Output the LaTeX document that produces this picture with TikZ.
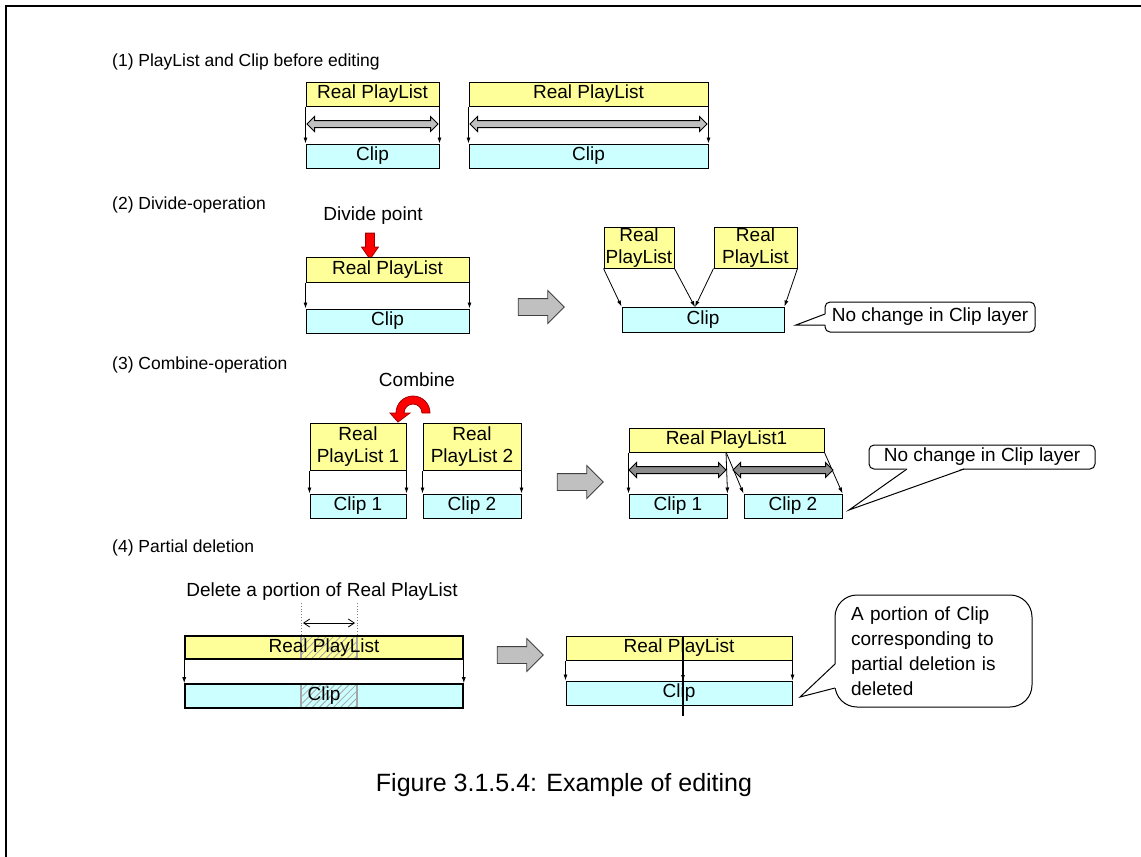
\documentclass[tikz,border=0pt]{standalone}
\usepackage{fontspec}
\setmainfont{Liberation Sans}
\usepackage{tikz}
\usetikzlibrary{arrows.meta}
\usetikzlibrary{shapes.arrows}
\usetikzlibrary{patterns.meta}

\definecolor{plyellow}{HTML}{FFFF99}
\definecolor{clipcyan}{HTML}{CCFFFF}
\definecolor{arrowgray}{HTML}{C0C0C0}
\definecolor{spangray}{HTML}{8C8C8C}
\definecolor{hatchgray}{HTML}{A6A6A6}
\definecolor{redline}{HTML}{A00000}

\newcommand{\lbl}{\fontsize{19}{22}\selectfont}
\newcommand{\hdgfont}{\fontsize{17.5}{20}\selectfont}

\tikzset{
  rpl/.style={draw, fill=plyellow, line width=1pt, inner sep=0pt, align=center, font=\lbl},
  clipbox/.style={draw, fill=clipcyan, line width=1pt, inner sep=0pt, align=center, font=\lbl},
  hdg/.style={anchor=west, inner sep=0pt, font=\hdgfont},
  link/.style={-{Latex[length=6pt,width=4pt]}, line width=0.8pt},
  bigarrow/.style={single arrow, draw=black!75, fill=arrowgray, line width=0.8pt,
    inner xsep=0pt, inner ysep=8pt, minimum height=46pt, single arrow head extend=8pt},
  span/.style={double arrow, draw, line width=1pt, inner xsep=0pt, inner ysep=3pt,
    double arrow head extend=4pt},
  bubble/.style={draw, fill=white, line width=1pt, inner sep=0pt, font=\lbl},
  hatch/.style={path picture={
    \fill[pattern={Lines[angle=45,distance=5pt,line width=0.8pt]}, pattern color=hatchgray]
      ([xshift=116pt]path picture bounding box.south west) rectangle
      ([xshift=172pt]path picture bounding box.north west);
    \draw[hatchgray, line width=1.5pt]
      ([xshift=116pt]path picture bounding box.south west) --
      ([xshift=116pt]path picture bounding box.north west)
      ([xshift=172pt]path picture bounding box.south west) --
      ([xshift=172pt]path picture bounding box.north west);}}
}

\begin{document}
\begin{tikzpicture}[x=1pt,y=-1pt]
    \useasboundingbox (0,0) rectangle (1141,857);
    % Frame
    \draw[line width=2.5pt] (6,857) -- (6,6) -- (1141,6);
    %
    % (1) Before editing
    \node[hdg] (head1) at (112,62) {(1) PlayList and Clip before editing};
    \node[rpl, minimum width=133pt, minimum height=24pt] (rplA) at (372.5,94) {Real PlayList};
    \node[clipbox, minimum width=133pt, minimum height=24pt] (clipA) at (372.5,156) {Clip};
    \node[rpl, minimum width=239pt, minimum height=24pt] (rplB) at (588.5,94) {Real PlayList};
    \node[clipbox, minimum width=239pt, minimum height=24pt] (clipB) at (588.5,156) {Clip};
    \draw[link] (rplA.south west) -- (clipA.north west);
    \draw[link] (rplA.south east) -- (clipA.north east);
    \draw[link] (rplB.south west) -- (clipB.north west);
    \draw[link] (rplB.south east) -- (clipB.north east);
    \node[span, fill=arrowgray, minimum height=131pt] (spanA) at (372.5,124) {};
    \node[span, fill=arrowgray, minimum height=237pt] (spanB) at (588.5,124) {};
    %
    % (2) Divide-operation
    \node[hdg] (head2) at (112,205) {(2) Divide-operation};
    \node[font=\lbl, inner sep=0pt] (divlbl) at (373,216) {Divide point};
    \node[single arrow, draw=redline, fill=red, line width=0.8pt, inner sep=4pt,
      minimum height=26pt, single arrow head extend=4pt,
      single arrow tip angle=70, shape border rotate=270] (divarr) at (370,243) {};
    \node[rpl, minimum width=163pt, minimum height=25pt] (rplDiv) at (387.5,269.5) {Real PlayList};
    \node[clipbox, minimum width=163pt, minimum height=24pt] (clipDiv) at (387.5,321) {Clip};
    \draw[link] (rplDiv.south west) -- (clipDiv.north west);
    \draw[link] (rplDiv.south east) -- (clipDiv.north east);
    \node[bigarrow] (go2) at (537,307) {};
    \node[rpl, minimum width=70pt, minimum height=41pt] (rplLeft) at (639,247.5) {Real\\PlayList};
    \node[rpl, minimum width=83pt, minimum height=41pt] (rplRight) at (755.5,247.5) {Real\\PlayList};
    \node[clipbox, minimum width=162pt, minimum height=25pt] (clipMid) at (703,319.5) {Clip};
    \coordinate (cutMid) at (695,307);
    \draw[link] (rplLeft.south west) -- (clipMid.north west);
    \draw[link] (rplLeft.south east) -- (cutMid);
    \draw[link] (rplRight.south west) -- (cutMid);
    \draw[link] (rplRight.south east) -- (clipMid.north east);
    \node[bubble, rounded corners=5pt, minimum width=210pt, minimum height=30pt] (note2) at (930,317) {No change in Clip layer};
    \fill[white] (826,314) -- (796,325) -- (826,325) -- cycle;
    \draw[line width=1pt] (825,314) -- (796,325) -- (825,325);
    %
    % (3) Combine-operation
    \node[hdg] (head3) at (112,365) {(3) Combine-operation};
    \node[font=\lbl, inner sep=0pt] (comblbl) at (417,380) {Combine};
    \filldraw[fill=red, draw=redline, line width=0.8pt]
      (430,413) arc (0:-180:17) -- (390,413) -- (398,422) -- (410,413) -- (404,413) arc (-180:0:9) -- cycle;
    \node[rpl, minimum width=96pt, minimum height=47pt] (rplOne) at (358,446.5) {Real\\PlayList 1};
    \node[rpl, minimum width=98pt, minimum height=47pt] (rplTwo) at (472,446.5) {Real\\PlayList 2};
    \node[clipbox, minimum width=96pt, minimum height=24pt] (clipOne) at (358,506) {Clip 1};
    \node[clipbox, minimum width=98pt, minimum height=24pt] (clipTwo) at (472,506) {Clip 2};
    \draw[link] (rplOne.south west) -- (clipOne.north west);
    \draw[link] (rplOne.south east) -- (clipOne.north east);
    \draw[link] (rplTwo.south west) -- (clipTwo.north west);
    \draw[link] (rplTwo.south east) -- (clipTwo.north east);
    \node[bigarrow] (go3) at (576,482) {};
    \node[rpl, minimum width=195pt, minimum height=24pt] (rplJoin) at (726.5,440) {Real PlayList1};
    \node[clipbox, minimum width=98pt, minimum height=24pt] (clipJoinA) at (678,506) {Clip 1};
    \node[clipbox, minimum width=98pt, minimum height=24pt] (clipJoinB) at (793,506) {Clip 2};
    \coordinate (seam) at (726,452);
    \draw[link] (rplJoin.south west) -- (clipJoinA.north west);
    \draw[link] (seam) -- (clipJoinA.north east);
    \draw[link] (seam) -- (clipJoinB.north west);
    \draw[link] (rplJoin.south east) -- (clipJoinB.north east);
    \node[span, fill=spangray, minimum height=97pt] (spanC) at (677.5,470) {};
    \node[span, fill=spangray, minimum height=100pt] (spanD) at (783,470) {};
    \node[bubble, rounded corners=5pt, minimum width=226pt, minimum height=24pt] (note3) at (982,457) {No change in Clip layer};
    \fill[white] (907,468) -- (849,510) -- (964,468) -- cycle;
    \draw[line width=1pt] (907,469) -- (849,510) -- (964,469);
    %
    % (4) Partial deletion
    \node[hdg] (head4) at (112,548) {(4) Partial deletion};
    \node[font=\lbl, inner sep=0pt] (dellbl) at (322,592) {Delete a portion of Real PlayList};
    \node[rpl, hatch, line width=1.6pt, minimum width=278pt, minimum height=23pt] (rplCut) at (324,647.5) {Real PlayList};
    \node[clipbox, hatch, line width=1.6pt, minimum width=278pt, minimum height=24pt] (clipCut) at (324,696) {Clip};
    \coordinate (markL) at (301,603);
    \coordinate (markR) at (357,603);
    \draw[dotted, gray, line width=0.8pt] (markL) -- (markL |- rplCut.north);
    \draw[dotted, gray, line width=0.8pt] (markR) -- (markR |- rplCut.north);
    \draw[{Straight Barb[length=6pt,width=8pt]}-{Straight Barb[length=6pt,width=8pt]}, line width=0.8pt]
      (303,623) -- (355,623);
    \draw[link] (rplCut.south west) -- (clipCut.north west);
    \draw[link] (rplCut.south east) -- (clipCut.north east);
    \node[bigarrow] (go4) at (516,655) {};
    \node[rpl, minimum width=226pt, minimum height=24pt] (rplDel) at (679,648) {Real PlayList};
    \node[clipbox, minimum width=226pt, minimum height=24pt] (clipDel) at (679,693) {Clip};
    \draw[link] (rplDel.south west) -- (clipDel.north west);
    \draw[link] (rplDel.south east) -- (clipDel.north east);
    \coordinate (cutTop) at (683,636);
    \coordinate (cutBot) at (683,716);
    \draw[link] (683,660) -- (683,681);
    \draw[line width=1.3pt] (cutTop) -- (cutBot);
    \node[bubble, rounded corners=22pt, align=left, text width=165pt, inner xsep=16pt,
      minimum height=112pt, font=\fontsize{19}{25}\selectfont] (note4) at (933.5,651)
      {A portion of Clip\\corresponding to\\partial deletion is\\deleted};
    \fill[white] (836,664) -- (800,697) -- (836,688) -- cycle;
    \draw[line width=1pt] (835,664) -- (800,697) -- (835,688);
    %
    % Caption
    \node[font=\fontsize{25}{30}\selectfont, inner sep=0pt] (caption) at (564,785) {Figure 3.1.5.4: Example of editing};
\end{tikzpicture}
\end{document}
